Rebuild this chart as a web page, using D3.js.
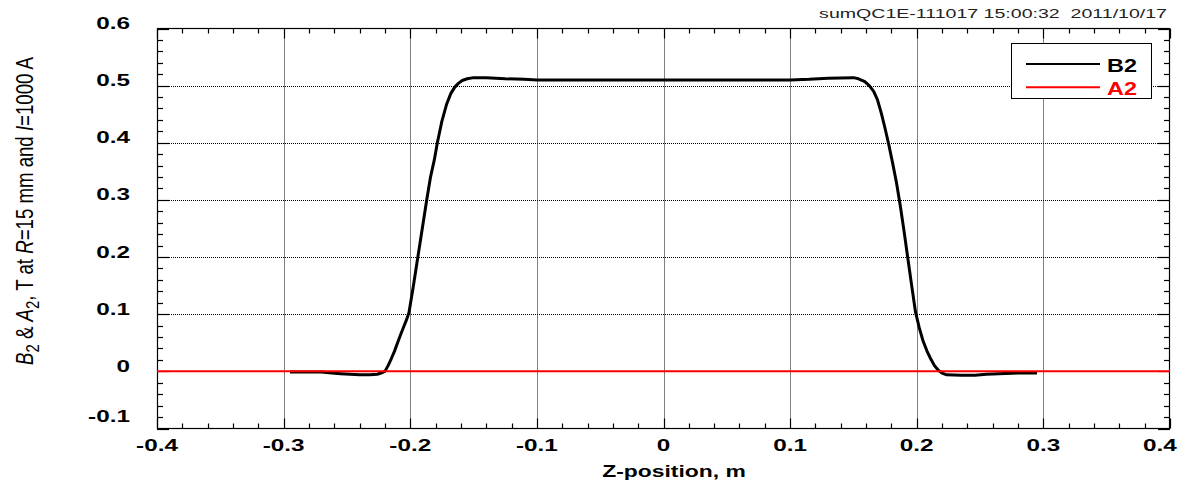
<!DOCTYPE html>
<html><head><meta charset="utf-8">
<script src="https://cdn.jsdelivr.net/npm/d3@7"></script>
<style>
html,body{margin:0;padding:0;background:#fff;}
svg{display:block;font-family:"Liberation Sans",Arial,sans-serif;}
</style></head>
<body>
<svg id="chart" width="1186" height="482"></svg>
<script>
// ---- data ----
const b2Z = [-0.295,-0.27,-0.262,-0.255,-0.2475,-0.24,-0.232,-0.226,-0.222,-0.220,-0.2175,-0.215,-0.2125,-0.210,-0.2075,-0.205,-0.203,-0.201,-0.1975,-0.194,-0.1905,-0.187,-0.184,-0.181,-0.1786,-0.175,-0.1712,-0.168,-0.165,-0.162,-0.159,-0.155,-0.150,-0.140,-0.125,-0.110,-0.100,-0.05,0,0.05,0.10,0.115,0.13,0.150,0.154,0.159,0.1625,0.166,0.169,0.172,0.175,0.178,0.181,0.184,0.187,0.190,0.193,0.196,0.199,0.202,0.205,0.208,0.211,0.214,0.217,0.220,0.2237,0.235,0.246,0.255,0.265,0.28,0.295];
const b2V = [-0.001,-0.001,-0.003,-0.004,-0.005,-0.006,-0.006,-0.005,-0.002,0.000,0.010,0.022,0.035,0.050,0.065,0.079,0.090,0.103,0.150,0.200,0.250,0.300,0.340,0.370,0.400,0.438,0.468,0.486,0.497,0.504,0.509,0.512,0.514,0.514,0.512,0.511,0.510,0.510,0.510,0.510,0.510,0.511,0.513,0.514,0.512,0.507,0.500,0.490,0.475,0.452,0.425,0.396,0.364,0.330,0.290,0.245,0.197,0.150,0.104,0.076,0.053,0.036,0.022,0.010,0.002,-0.003,-0.006,-0.007,-0.007,-0.005,-0.004,-0.003,-0.003];
const a2Z = [-0.4,-0.2,0,0.2,0.4];
const a2V = [0,0,0,0,0];
const xTicks = [-0.4,-0.3,-0.2,-0.1,0,0.1,0.2,0.3,0.4];
const xTickLabels = ["-0.4","-0.3","-0.2","-0.1","0","0.1","0.2","0.3","0.4"];
const yTicks = [-0.1,0,0.1,0.2,0.3,0.4,0.5,0.6];
const yTickLabels = ["-0.1","0","0.1","0.2","0.3","0.4","0.5","0.6"];
const seriesNames = ["B2","A2"];
const seriesColors = ["#000","#f00"];
const titleText = "sumQC1E-111017 15:00:32\u00a0\u00a02011/10/17";

// ---- layout ----
const SX = 1.43; // horizontal stretch of text
const L = 157, R = 1170, T = 28.5, B = 428.5;
const svg = d3.select("#chart");
const x = d3.scaleLinear().domain([-0.4,0.4]).range([L,R]);
const y = d3.scaleLinear().domain([-0.1,0.6]).range([B,T]);

const xMinor = d3.range(-0.4,0.4001,0.02).map(v=>+v.toFixed(2));
const yMinor = d3.range(-0.1,0.6001,0.02).map(v=>+v.toFixed(2));

// gridlines
const grid = svg.append("g").attr("stroke","#000").attr("stroke-width",1).attr("stroke-dasharray","1,1");
grid.selectAll("line.gx").data(xTicks.slice(1,-1)).join("line").attr("class","gx")
  .attr("x1",v=>Math.round(x(v))+0.5).attr("x2",v=>Math.round(x(v))+0.5).attr("y1",T).attr("y2",B);
grid.selectAll("line.gy").data(yTicks.slice(1,-1)).join("line").attr("class","gy")
  .attr("y1",v=>Math.round(y(v))+0.5).attr("y2",v=>Math.round(y(v))+0.5).attr("x1",L).attr("x2",R);

// inside ticks on all four sides
const tk = svg.append("g").attr("stroke","#000").attr("stroke-width",1.2);
const isMajor = v => Math.abs(v*10 - Math.round(v*10)) < 1e-6;
const xt = v => Math.round(x(v))+0.5, yt = v => Math.round(y(v))+0.5;
tk.selectAll("line.bx").data(xMinor).join("line").attr("class","bx")
  .attr("x1",xt).attr("x2",xt).attr("y1",B).attr("y2",v=>B-(isMajor(v)?10:5));
tk.selectAll("line.tx").data(xMinor).join("line").attr("class","tx")
  .attr("x1",xt).attr("x2",xt).attr("y1",T).attr("y2",v=>T+(isMajor(v)?10:5));
tk.selectAll("line.ly").data(yMinor).join("line").attr("class","ly")
  .attr("y1",yt).attr("y2",yt).attr("x1",L).attr("x2",v=>L+(isMajor(v)?12:6));
tk.selectAll("line.ry").data(yMinor).join("line").attr("class","ry")
  .attr("y1",yt).attr("y2",yt).attr("x1",R).attr("x2",v=>R-(isMajor(v)?12:6));

// frame
svg.append("rect").attr("x",L+0.5).attr("y",T).attr("width",R-L-1).attr("height",B-T)
  .attr("fill","none").attr("stroke","#000").attr("stroke-width",1.2);

// lines
const line = d3.line().x(d=>x(d[0])).y(d=>y(d[1]));
svg.append("defs").append("clipPath").attr("id","clip").append("rect").attr("x",L-2).attr("y",T).attr("width",R-L+2).attr("height",B-T);
const plot = svg.append("g").attr("clip-path","url(#clip)");
plot.append("path").datum(b2Z.map((z,i)=>[z,b2V[i]])).attr("d",line)
  .attr("fill","none").attr("stroke",seriesColors[0]).attr("stroke-width",3).attr("stroke-linejoin","round");
plot.append("path").datum(a2Z.map((z,i)=>[z,a2V[i]])).attr("d",line)
  .attr("fill","none").attr("stroke",seriesColors[1]).attr("stroke-width",2);

// stretched text helper
function stext(px,py,str,opts){
  const g = svg.append("g").attr("transform",`translate(${px},${py}) scale(${opts.sx||SX},1)`);
  const t = g.append("text").attr("x",0).attr("y",0).text(str)
    .attr("font-size",opts.size).attr("font-weight",opts.weight||"normal")
    .attr("text-anchor",opts.anchor||"start").attr("fill",opts.fill||"#000");
  return t;
}

// tick labels
xTicks.forEach((v,i)=>{
  let px = x(v); if(i===xTicks.length-1) px -= 10;
  stext(px,450.7,xTickLabels[i],{size:17,weight:"bold",anchor:"middle"});
});
yTicks.forEach((v,i)=>{
  let off = v===-0.1 ? -6.5 : 0.5;
  stext(130,y(v)+off,yTickLabels[i],{size:17,weight:"bold",anchor:"end"});
});

// axis titles
stext(674,476.5,"Z-position, m",{size:16,weight:"bold",anchor:"middle"});
stext(1167,18.3,titleText,{size:13.5,anchor:"end",fill:"#222",sx:1.45});

// y-axis title (rotated, stretched horizontally on screen)
const yl = svg.append("g").attr("transform","translate(33,211) scale(1.6,1) rotate(-90)")
  .append("text").attr("text-anchor","middle").attr("font-size",15).attr("fill","#000")
  .attr("textLength",308).attr("lengthAdjust","spacingAndGlyphs");
yl.append("tspan").attr("font-style","italic").text("B");
yl.append("tspan").attr("font-size",12).attr("dy",4).text("2");
yl.append("tspan").attr("dy",-4).text(" & ");
yl.append("tspan").attr("font-style","italic").text("A");
yl.append("tspan").attr("font-size",12).attr("dy",4).text("2");
yl.append("tspan").attr("dy",-4).text(", T at ");
yl.append("tspan").attr("font-style","italic").text("R");
yl.append("tspan").text("=15 mm and ");
yl.append("tspan").attr("font-style","italic").text("I");
yl.append("tspan").text("=1000 A");

// legend
const lg = svg.append("g");
lg.append("rect").attr("x",1011.5).attr("y",43.5).attr("width",140).attr("height",55)
  .attr("fill","#fff").attr("stroke","#000").attr("stroke-width",1);
seriesNames.forEach((n,i)=>{
  const ly = 64 + i*23.3;
  lg.append("line").attr("x1",1026).attr("x2",1100).attr("y1",ly).attr("y2",ly)
    .attr("stroke",seriesColors[i]).attr("stroke-width",2);
  stext(1107,ly+7.7,n,{size:18,weight:"bold",fill:seriesColors[i],sx:1.3});
});
</script>
</body></html>
